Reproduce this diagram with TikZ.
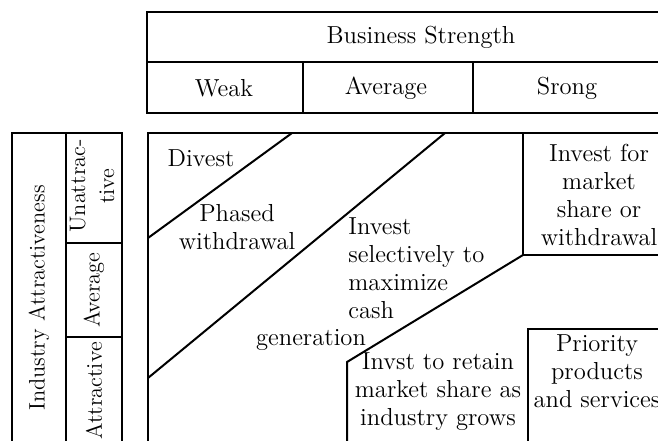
\documentclass[tikz,border=0pt]{standalone}
\usepackage{tikz}
\usetikzlibrary{positioning}

\begin{document}
\begin{tikzpicture}[x=0.5pt, y=-0.5pt]
  \tikzset{
    grid/.style={line width=1pt, line join=miter},
    celltext/.style={font=\fontsize{12.3}{14}\selectfont, align=center, inner sep=0pt},
    sidetext/.style={celltext, font=\fontsize{11.2}{14.5}\selectfont, rotate=90}
  }

  \useasboundingbox (0,0) rectangle (658,440);
  \clip (0,0) rectangle (658,440);

  \draw[grid] (700,12) -- (147,12) -- (147,113) -- (700,113);
  \draw[grid] (147,62) -- (700,62);
  \draw[grid] (303,62) -- (303,113);
  \draw[grid] (473,62) -- (473,113);

  \draw[grid] (12,460) -- (12,133) -- (122,133) -- (122,460);
  \draw[grid] (66,133) -- (66,460);
  \draw[grid] (66,243) -- (122,243);
  \draw[grid] (66,337) -- (122,337);

  \draw[grid] (148,460) -- (148,133) -- (700,133);
  \draw[grid] (148,238) -- (292,133);
  \draw[grid] (148,378) -- (445,133);
  \draw[grid] (523,133) -- (523,255) -- (700,255);
  \draw[grid] (523,255) -- (347,362) -- (347,460);
  \draw[grid] (528,460) -- (528,329) -- (700,329);

  \node[celltext] (strength) at (421,37) {Business Strength};
  \node[celltext] (weak) at (224,88) {Weak};
  \node[celltext] (avg) at (386,88) {Average};
  \node[celltext] (strong) at (567,88) {Srong};

  \node[sidetext] (industry) at (39,298) {Industry Attractiveness};
  \node[sidetext] (unattr) at (92,186) {Unattrac-\\tive};
  \node[sidetext] (iavg) at (94,290) {Average};
  \node[sidetext] (attr) at (94,391) {Attractive};

  \node[celltext] (divest) at (201,158) {Divest};
  \node[celltext] (phased) at (237,227) {Phased\\withdrawal};
  \node[celltext, align=left, anchor=west] (selective) at (348,268) {Invest\\selectively to\\maximize\\cash};
  \node[celltext] (gen) at (311,340) {generation};
  \node[celltext] (growth) at (599,195) {Invest for\\market\\share or\\withdrawal};
  \node[celltext] (retain) at (438,392) {Invst to retain\\market share as\\industry grows};
  \node[celltext] (priority) at (597,371) {Priority\\products\\and services};
\end{tikzpicture}
\end{document}
